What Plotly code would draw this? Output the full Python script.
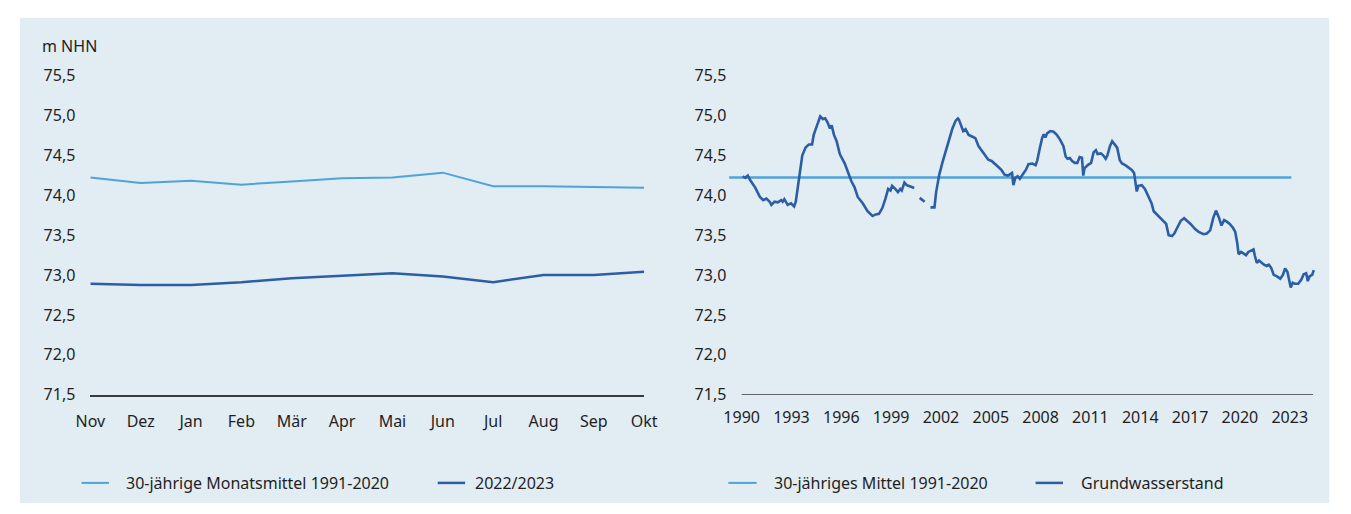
import plotly.graph_objects as go

# ---------------- data ----------------
monate = ["Nov", "Dez", "Jan", "Feb", "Mär", "Apr", "Mai", "Jun", "Jul", "Aug", "Sep", "Okt"]
mittel_monat = [74.22, 74.15, 74.18, 74.13, 74.17, 74.21, 74.22, 74.28, 74.11, 74.11, 74.10, 74.09]
werte_2022_2023 = [72.89, 72.875, 72.875, 72.91, 72.96, 72.99, 73.02, 72.98, 72.91, 73.00, 73.00, 73.04]

jahr = [
    1990.06, 1990.22, 1990.37, 1990.51, 1990.81, 1991.10, 1991.30, 1991.49, 1991.69, 1991.79,
    1991.98, 1992.18, 1992.38, 1992.47, 1992.57, 1992.77, 1992.97, 1993.16, 1993.26, 1993.36,
    1993.52, 1993.65, 1993.85, 1994.05, 1994.24, 1994.34, 1994.54, 1994.73, 1994.89, 1995.03,
    1995.17, 1995.32, 1995.42, 1995.56, 1995.72, 1995.91, 1996.21, 1996.40, 1996.60, 1996.80,
    1996.99, 1997.29, 1997.58, 1997.88, 1998.07, 1998.27, 1998.47, 1998.66, 1998.82, 1998.96,
    1999.06, 1999.25, 1999.41, 1999.55, 1999.64, 1999.80, 1999.94, 2000.04, 2000.23, 2000.39,
    2000.55,
    2000.72, 2001.02,
    2001.20,
    2001.37, 2001.61, 2001.71, 2001.90, 2002.10, 2002.30, 2002.49, 2002.69, 2002.89, 2003.02,
    2003.08, 2003.22, 2003.34, 2003.48, 2003.67, 2003.87, 2004.07, 2004.26, 2004.46, 2004.65,
    2004.85, 2005.05, 2005.25, 2005.44, 2005.64, 2005.83, 2006.03, 2006.17, 2006.28, 2006.36,
    2006.48, 2006.62, 2006.75, 2006.91, 2007.11, 2007.27, 2007.50, 2007.70, 2007.80, 2007.94,
    2008.09, 2008.19, 2008.29, 2008.39, 2008.58, 2008.78, 2008.98, 2009.17, 2009.37, 2009.51,
    2009.62, 2009.76, 2009.90, 2010.06, 2010.21, 2010.35, 2010.49, 2010.57, 2010.64, 2010.84,
    2011.04, 2011.19, 2011.33, 2011.43, 2011.63, 2011.78, 2011.92, 2012.02, 2012.18, 2012.31,
    2012.51, 2012.61, 2012.77, 2012.90, 2013.10, 2013.30, 2013.49, 2013.63, 2013.69, 2013.79,
    2013.89, 2014.09, 2014.28, 2014.48, 2014.68, 2014.81, 2014.97, 2015.17, 2015.36, 2015.56,
    2015.71, 2015.91, 2016.05, 2016.24, 2016.44, 2016.64, 2016.83, 2017.03, 2017.29, 2017.52,
    2017.81, 2018.01, 2018.21, 2018.40, 2018.56, 2018.74, 2018.89, 2019.05, 2019.19, 2019.39,
    2019.58, 2019.72, 2019.84, 2019.92, 2020.07, 2020.23, 2020.37, 2020.51, 2020.66, 2020.82,
    2020.90, 2021.02, 2021.15, 2021.29, 2021.45, 2021.61, 2021.74, 2021.88, 2022.04, 2022.23,
    2022.43, 2022.59, 2022.72, 2022.86, 2022.98, 2023.06, 2023.18, 2023.31, 2023.51, 2023.70,
    2023.84, 2023.99, 2024.09, 2024.19, 2024.35, 2024.45,
]
grundwasser = [
    74.235, 74.215, 74.243, 74.187, 74.096, 73.976, 73.936, 73.956, 73.916, 73.877,
    73.916, 73.908, 73.936, 73.916, 73.948, 73.877, 73.897, 73.857, 73.916, 74.076,
    74.314, 74.494, 74.593, 74.633, 74.633, 74.752, 74.872, 74.983, 74.951, 74.959,
    74.911, 74.832, 74.872, 74.752, 74.673, 74.513, 74.394, 74.275, 74.175, 74.096,
    73.976, 73.897, 73.797, 73.737, 73.757, 73.765, 73.837, 73.956, 74.076, 74.056,
    74.115, 74.076, 74.036, 74.076, 74.056, 74.155, 74.123, 74.115, 74.096, 74.088,
    None,
    73.964, 73.916,
    None,
    73.845, 73.845, 74.036, 74.255, 74.414, 74.553, 74.712, 74.832, 74.931, 74.959,
    74.943, 74.852, 74.800, 74.824, 74.752, 74.732, 74.712, 74.613, 74.553, 74.494,
    74.442, 74.426, 74.394, 74.354, 74.314, 74.255, 74.243, 74.267, 74.275, 74.123,
    74.215, 74.235, 74.203, 74.255, 74.314, 74.386, 74.394, 74.374, 74.434, 74.573,
    74.712, 74.760, 74.720, 74.772, 74.800, 74.792, 74.752, 74.693, 74.613, 74.482,
    74.454, 74.462, 74.426, 74.402, 74.402, 74.474, 74.466, 74.243, 74.334, 74.374,
    74.402, 74.533, 74.561, 74.513, 74.521, 74.494, 74.454, 74.494, 74.613, 74.673,
    74.613, 74.593, 74.434, 74.394, 74.374, 74.346, 74.314, 74.275, 74.155, 74.044,
    74.115, 74.123, 74.076, 73.996, 73.897, 73.797, 73.765, 73.717, 73.678, 73.638,
    73.498, 73.487, 73.518, 73.598, 73.678, 73.709, 73.678, 73.638, 73.578, 73.538,
    73.510, 73.518, 73.558, 73.717, 73.805, 73.717, 73.618, 73.686, 73.670, 73.638,
    73.590, 73.538, 73.399, 73.260, 73.288, 73.272, 73.248, 73.288, 73.300, 73.319,
    73.240, 73.152, 73.180, 73.152, 73.128, 73.112, 73.128, 73.089, 73.001, 72.981,
    72.953, 73.001, 73.081, 73.041, 72.922, 72.842, 72.902, 72.890, 72.890, 72.942,
    73.009, 73.021, 72.922, 72.981, 73.001, 73.061,
]
mittel_1991_2020 = 74.22
mittel_zeitraum = [1989.25, 2023.1]

y_ticks = [71.5, 72.0, 72.5, 73.0, 73.5, 74.0, 74.5, 75.0, 75.5]
jahr_ticks = list(range(1990, 2024, 3))

namen_links = ["30-jährige Monatsmittel 1991-2020", "2022/2023"]
namen_rechts = ["30-jähriges Mittel 1991-2020", "Grundwasserstand"]

# ---------------- styling helpers ----------------
W, H = 1351, 514


def fx(p):
    return p / W


def fy(p):
    return 1 - p / H


LIGHT = "#4fa3db"
DARK = "#2c5ea6"
TXT = "#1f1f1f"
BG = "#e2ecf3"
FONT = "Noto Sans"
FS = 16

fig = go.Figure()
fig.add_trace(go.Scatter(x=monate, y=mittel_monat, mode="lines",
                         line=dict(color=LIGHT, width=2), name=namen_links[0],
                         showlegend=False, xaxis="x", yaxis="y"))
fig.add_trace(go.Scatter(x=monate, y=werte_2022_2023, mode="lines",
                         line=dict(color=DARK, width=2.5), name=namen_links[1],
                         showlegend=False, xaxis="x", yaxis="y"))
fig.add_trace(go.Scatter(x=mittel_zeitraum, y=[mittel_1991_2020] * len(mittel_zeitraum),
                         mode="lines", line=dict(color=LIGHT, width=2.5), name=namen_rechts[0],
                         showlegend=False, xaxis="x2", yaxis="y2"))
fig.add_trace(go.Scatter(x=jahr, y=grundwasser, mode="lines", connectgaps=False,
                         line=dict(color=DARK, width=2.6), name=namen_rechts[1],
                         showlegend=False, xaxis="x2", yaxis="y2"))

tickfont = dict(family=FONT, size=FS, color=TXT)
yaxis_common = dict(range=[y_ticks[0], y_ticks[-1]], tickvals=y_ticks, tickformat=".1f",
                    showgrid=False, zeroline=False, showline=False, ticks="",
                    tickfont=tickfont, domain=[fy(401), fy(67)])

# legend built from line keys + text labels (pixel positions)
legend_items = [
    (68, 96, 111, LIGHT, 2.0, namen_links[0]),
    (432, 460, 468, DARK, 2.5, namen_links[1]),
    (729, 758, 774, LIGHT, 2.0, namen_rechts[0]),
    (1043, 1071, 1087, DARK, 2.5, namen_rechts[1]),
]
LEG_Y = 493

shapes = [
    dict(type="rect", xref="paper", yref="paper", x0=fx(5), x1=fx(1343), y0=0, y1=fy(7),
         fillcolor=BG, line=dict(width=0), layer="below"),
    dict(type="line", xref="x2", yref="y2", x0=jahr_ticks[0], x1=2024.4,
         y0=y_ticks[0], y1=y_ticks[0], line=dict(color="#3a3a3a", width=1.5)),
]
annotations = [dict(text="m NHN", xref="paper", yref="paper", x=fx(26), y=fy(37),
                    xanchor="left", yanchor="middle", showarrow=False,
                    font=dict(family=FONT, size=FS, color=TXT))]
for s0, s1, t0, col, lw, label in legend_items:
    shapes.append(dict(type="line", xref="paper", yref="paper", x0=fx(s0), x1=fx(s1),
                       y0=fy(LEG_Y), y1=fy(LEG_Y), line=dict(color=col, width=lw)))
    annotations.append(dict(text=label, xref="paper", yref="paper", x=fx(t0), y=fy(LEG_Y),
                            xanchor="left", yanchor="middle", showarrow=False,
                            font=dict(family=FONT, size=FS, color=TXT)))

fig.update_layout(
    width=W, height=H, autosize=False,
    margin=dict(l=0, r=0, t=0, b=0),
    paper_bgcolor="white", plot_bgcolor="rgba(0,0,0,0)",
    separators=", ", showlegend=False,
    font=dict(family=FONT, size=FS, color=TXT),
    xaxis=dict(domain=[fx(77), fx(643)], range=[0, len(monate) - 1],
               showgrid=False, zeroline=False, showline=True,
               linecolor="#3a3a3a", linewidth=1.5, ticks="",
               ticklabelstandoff=11, tickfont=tickfont),
    yaxis=dict(anchor="x", ticklabelstandoff=14, **yaxis_common),
    xaxis2=dict(domain=[fx(729), fx(1329)], range=[1989.2, 2024.55],
                tickvals=jahr_ticks, tickformat="d",
                showgrid=False, zeroline=False, showline=False, ticks="",
                ticklabelstandoff=11, tickfont=tickfont),
    yaxis2=dict(anchor="x2", ticklabelstandoff=1, **yaxis_common),
    annotations=annotations,
    shapes=shapes,
)

fig.write_html("out.html", config={"displayModeBar": False},
               post_script="document.body.style.margin='0';document.body.style.overflow='hidden';")
